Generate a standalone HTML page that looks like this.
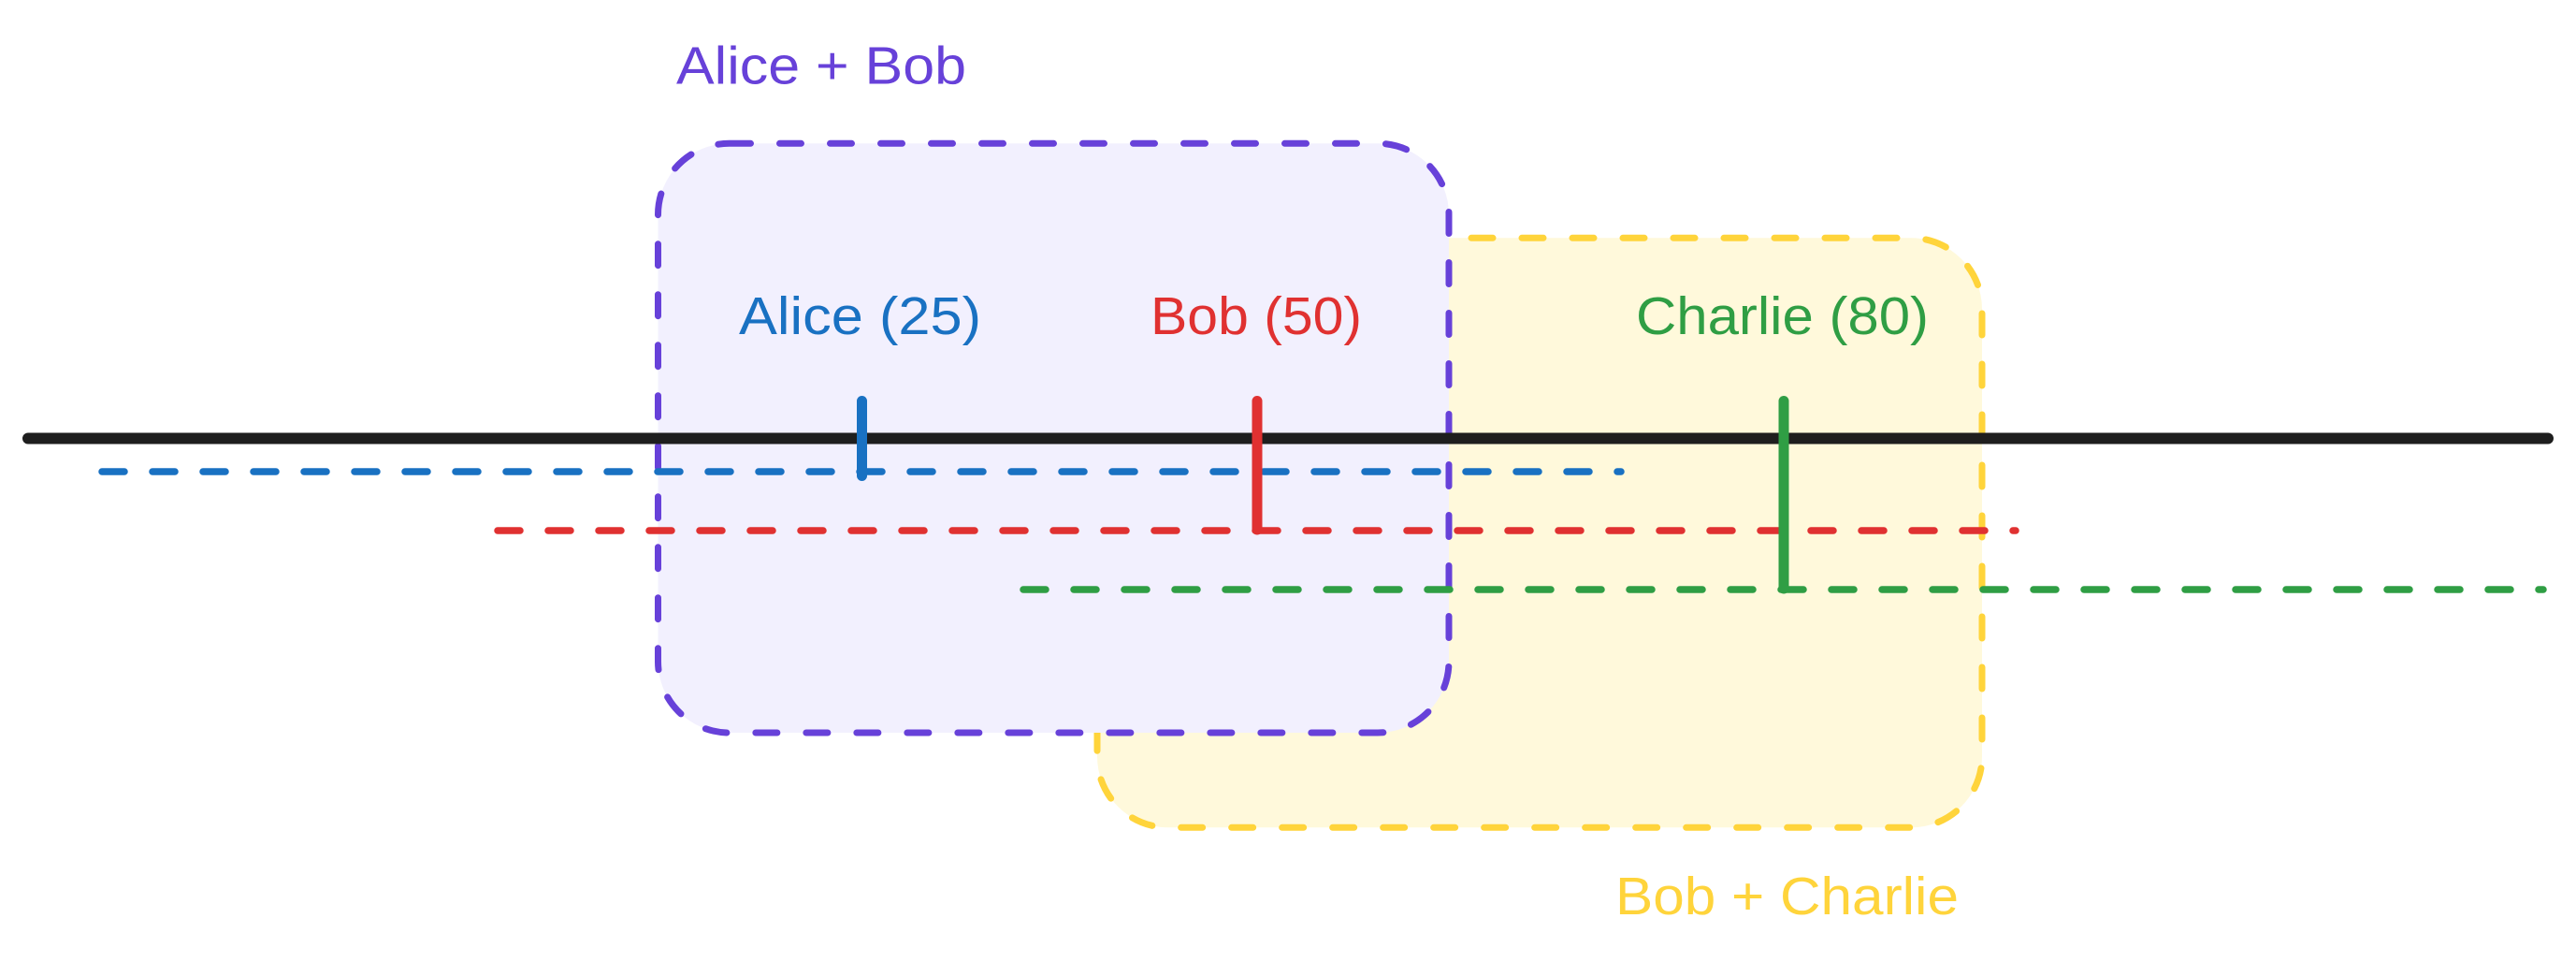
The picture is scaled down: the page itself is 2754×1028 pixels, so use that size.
<!DOCTYPE html>
<html>
<head>
<meta charset="utf-8">
<style>
  html, body { margin: 0; padding: 0; background: #ffffff; }
  body { width: 2754px; height: 1028px; overflow: hidden; }
  svg { display: block; }
  text { font-family: "Liberation Sans", "DejaVu Sans", sans-serif; font-size: 57px; }
</style>
</head>
<body>
<svg width="2754" height="1028" viewBox="0 0 2754 1028" xmlns="http://www.w3.org/2000/svg">
  <rect x="0" y="0" width="2754" height="1028" fill="#ffffff"/>

  <!-- Bob + Charlie box (yellow) -->
  <rect x="1173" y="254.3" width="946" height="630" rx="76" ry="76"
        fill="#fff9db" stroke="#ffd43b" stroke-width="7"
        stroke-dasharray="23 31" stroke-linecap="round"/>

  <!-- Alice + Bob box (violet) -->
  <rect x="703.5" y="153.3" width="845.5" height="629.7" rx="76" ry="76"
        fill="#f2f0fe" stroke="#6741d9" stroke-width="7"
        stroke-dasharray="23 31" stroke-linecap="round"/>

  <!-- main timeline -->
  <line x1="30" y1="468.5" x2="2724" y2="468.5" stroke="#1e1e1e" stroke-width="12" stroke-linecap="round"/>

  <!-- dashed ranges -->
  <line x1="109" y1="504" x2="1733" y2="504" stroke="#1971c2" stroke-width="7.5"
        stroke-dasharray="24 30" stroke-linecap="round"/>
  <line x1="532" y1="567" x2="2155" y2="567" stroke="#e03131" stroke-width="7.5"
        stroke-dasharray="24 30" stroke-linecap="round"/>
  <line x1="1094" y1="630" x2="2719" y2="630" stroke="#2f9e44" stroke-width="7.5"
        stroke-dasharray="24 30" stroke-linecap="round"/>

  <!-- ticks -->
  <line x1="921.5" y1="428.5" x2="921.5" y2="508.5" stroke="#1971c2" stroke-width="11" stroke-linecap="round"/>
  <line x1="1344" y1="428.5" x2="1344" y2="566" stroke="#e03131" stroke-width="11" stroke-linecap="round"/>
  <line x1="1907" y1="428.5" x2="1907" y2="629" stroke="#2f9e44" stroke-width="11" stroke-linecap="round"/>

  <!-- labels -->
  <text x="723" y="89.5" fill="#6741d9" textLength="310" lengthAdjust="spacingAndGlyphs">Alice + Bob</text>
  <text x="790" y="357" fill="#1971c2" textLength="259" lengthAdjust="spacingAndGlyphs">Alice (25)</text>
  <text x="1230" y="357" fill="#e03131" textLength="226" lengthAdjust="spacingAndGlyphs">Bob (50)</text>
  <text x="1749" y="357" fill="#2f9e44" textLength="313" lengthAdjust="spacingAndGlyphs">Charlie (80)</text>
  <text x="1727" y="977" fill="#ffd43b" textLength="367" lengthAdjust="spacingAndGlyphs">Bob + Charlie</text>
</svg>
</body>
</html>
